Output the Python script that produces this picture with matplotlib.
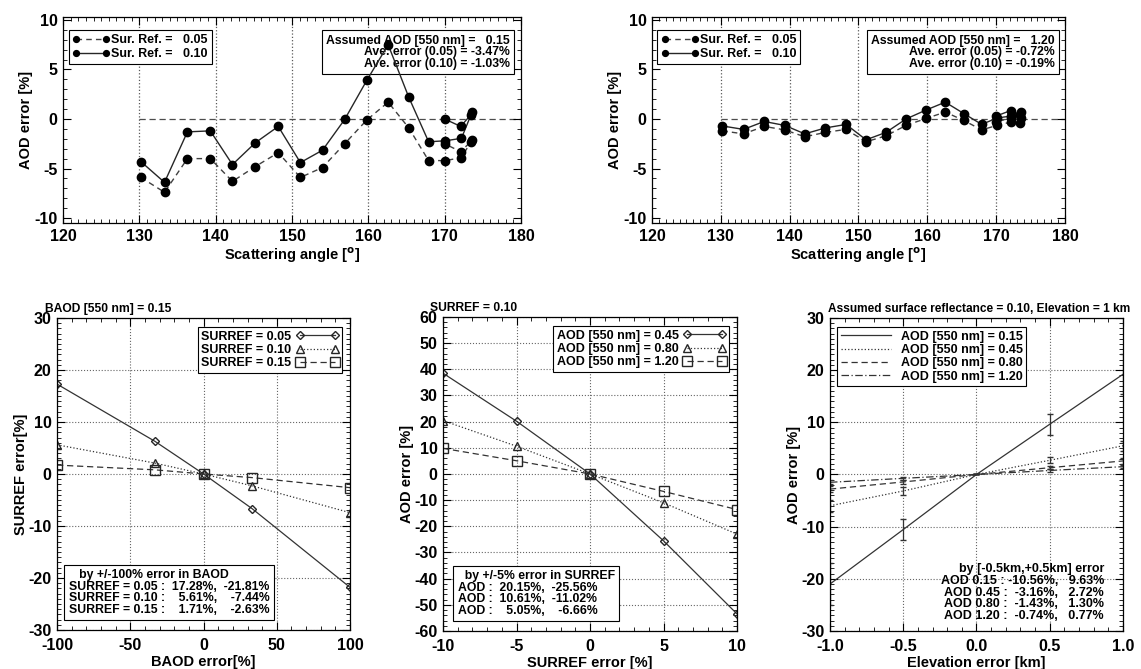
import matplotlib
matplotlib.use("Agg")
import matplotlib.pyplot as plt
from matplotlib.ticker import MultipleLocator, FormatStrFormatter

plt.rcParams['font.family'] = ['Liberation Sans', 'DejaVu Sans']
plt.rcParams['font.weight'] = 'bold'
plt.rcParams['axes.labelweight'] = 'bold'
plt.rcParams['axes.unicode_minus'] = False

# --- top: AOD error vs scattering angle ---
angle = [130.2, 133.3, 136.3, 139.3, 142.2, 145.2, 148.2, 151.1, 154.0, 156.9,
         159.8, 162.6, 165.3, 167.9, 170.1, 172.2, 173.6, 173.4, 172.1, 170.0]
err015_sr005 = [-5.9, -7.4, -4.0, -4.0, -6.3, -4.8, -3.4, -5.9, -4.9, -2.5,
                -0.1, 1.7, -0.9, -4.2, -4.2, -3.9, -2.1, -2.3, -3.3, -2.5]
err015_sr010 = [-4.3, -6.4, -1.3, -1.2, -4.6, -2.4, -0.75, -4.4, -3.15, -0.05,
                3.9, 7.5, 2.2, -2.3, -2.2, -1.95, 0.7, 0.4, -0.75, 0.0]
err120_sr005 = [-1.2, -1.5, -0.75, -1.1, -1.8, -1.35, -1.05, -2.3, -1.7, -0.65,
                0.05, 0.7, -0.15, -1.1, -0.65, -0.3, 0.15, -0.4, 0.1, -0.3]
err120_sr010 = [-0.7, -1.05, -0.25, -0.65, -1.5, -0.9, -0.55, -2.1, -1.35, 0.0,
                0.9, 1.7, 0.55, -0.55, 0.1, 0.3, 0.75, 0.45, 0.85, 0.3]
top_info = [("0.15", "-3.47%", "-1.03%"), ("1.20", "-0.72%", "-0.19%")]

# --- bottom-left: SURREF error vs BAOD error ---
baod_err = [-100, -33.3, 0, 33.3, 100]
surref_err = {
    "0.05": [17.28, 6.3, 0, -6.7, -21.81],
    "0.10": [5.61, 2.1, 0, -2.3, -7.44],
    "0.15": [1.71, 0.8, 0, -0.7, -2.63],
}
# --- bottom-middle: AOD error vs SURREF error ---
sr_err = [-10, -5, 0, 5, 10]
aod_err_sr = {
    "0.45": [38.5, 20.15, 0, -25.56, -53.5],
    "0.80": [20.4, 10.61, 0, -11.02, -23.0],
    "1.20": [9.8, 5.05, 0, -6.66, -13.6],
}
# --- bottom-right: AOD error vs elevation error ---
elev_err = [-1.0, -0.5, 0.0, 0.5, 1.0]
aod_err_el = {
    "0.15": [-21.0, -10.56, 0, 9.63, 19.2],
    "0.45": [-6.0, -3.16, 0, 2.72, 5.5],
    "0.80": [-2.8, -1.43, 0, 1.30, 2.6],
    "1.20": [-1.5, -0.74, 0, 0.77, 1.5],
}
aod_err_el_bar = {
    "0.15": [4.0, 2.0, 0, 2.0, 3.8],
    "0.45": [1.2, 0.7, 0, 0.6, 1.0],
    "0.80": [0.5, 0.3, 0, 0.3, 0.5],
    "1.20": [0.4, 0.3, 0, 0.3, 0.3],
}

fig = plt.figure(figsize=(11.41, 6.69), dpi=100)
box_kw = dict(boxstyle='square,pad=0.35', facecolor='white', edgecolor='black', linewidth=0.8)


def style_axes(ax):
    ax.tick_params(which='both', direction='in', top=True, right=True, labelsize=11.5)
    ax.tick_params(which='major', length=6, width=0.8, pad=4)
    ax.tick_params(which='minor', length=3, width=0.6)
    for s in ax.spines.values():
        s.set_linewidth(0.9)


# top panels
top_axes = [fig.add_axes([0.0552, 0.6667, 0.4014, 0.3079]),
            fig.add_axes([0.5714, 0.6667, 0.3620, 0.3079])]
top_series = [(err015_sr005, err015_sr010), (err120_sr005, err120_sr010)]
for ax, (s005, s010), info in zip(top_axes, top_series, top_info):
    for xv in [130, 140, 150, 160, 170]:
        ax.axvline(xv, color='0.35', linestyle=':', linewidth=0.9, zorder=1)
    ax.plot([130, 180], [0, 0], color='0.3', linestyle=(0, (5, 3)), linewidth=0.9, zorder=1)
    ax.plot(angle, s005, color='0.25', linestyle=(0, (4, 3)), linewidth=1.0,
            marker='o', markersize=6, markerfacecolor='black', markeredgecolor='black',
            label='Sur. Ref. =   0.05', zorder=4)
    ax.plot(angle, s010, color='0.15', linestyle='-', linewidth=1.0,
            marker='o', markersize=6, markerfacecolor='black', markeredgecolor='black',
            label='Sur. Ref. =   0.10', zorder=4)
    ax.set_xlim(120, 180)
    ax.xaxis.set_major_locator(MultipleLocator(10))
    ax.xaxis.set_minor_locator(MultipleLocator(1))
    ax.yaxis.set_major_locator(MultipleLocator(5))
    ax.yaxis.set_minor_locator(MultipleLocator(1))
    ax.set_ylim(-10.5, 10.3)
    ax.set_xlabel('Scattering angle [$\\mathbf{^o}$]', fontsize=10.5, labelpad=1)
    ax.set_ylabel('AOD error [%]', fontsize=10.5, labelpad=1)
    style_axes(ax)
    leg = ax.legend(loc='upper left', numpoints=2, fontsize=9, frameon=True,
                    fancybox=False, edgecolor='black', handlelength=3.0,
                    markerscale=0.7, borderpad=0.3, labelspacing=0.15,
                    handletextpad=0.1, borderaxespad=0,
                    bbox_to_anchor=(0.013, 0.935), framealpha=1)
    leg.get_frame().set_linewidth(0.8)
    leg.set_zorder(2)
    ax.text(0.975, 0.915,
            'Assumed AOD [550 nm] =   %s\nAve. error (0.05) = %s\nAve. error (0.10) = %s' % info,
            transform=ax.transAxes, ha='right', va='top', multialignment='right',
            fontsize=8.8, linespacing=0.95, zorder=2, bbox=box_kw)

# bottom panels
line_styles = ['-', ':', (0, (5, 3))]
markers = ['D', '^', 's']
mk_sizes = [4, 6, 6.5]

ax1 = fig.add_axes([0.0500, 0.0583, 0.2568, 0.4664])
for (k, v), ls, mk, ms in zip(surref_err.items(), line_styles, markers, mk_sizes):
    ax1.plot(baod_err, v, color='0.2', linestyle=ls, linewidth=0.9, marker=mk,
             markersize=ms, markerfacecolor='none', markeredgecolor='0.15',
             label='SURREF = %s' % k)
ax1.set_xlim(-100, 100)
ax1.set_ylim(-30, 30)
ax1.xaxis.set_major_locator(MultipleLocator(50))
ax1.xaxis.set_minor_locator(MultipleLocator(10))
ax1.yaxis.set_major_locator(MultipleLocator(10))
ax1.yaxis.set_minor_locator(MultipleLocator(1))
ax1.set_xlabel('BAOD error[%]', fontsize=10.5, labelpad=1)
ax1.set_ylabel('SURREF error[%]', fontsize=10.5, labelpad=0)
ax1.text(-0.041, 1.008, 'BAOD [550 nm] = 0.15', transform=ax1.transAxes,
         ha='left', va='bottom', fontsize=8.7)
ax1.text(0.04, 0.045,
         '   by +/-100% error in BAOD\nSURREF = 0.05 :  17.28%,  -21.81%\n'
         'SURREF = 0.10 :    5.61%,    -7.44%\nSURREF = 0.15 :    1.71%,    -2.63%',
         transform=ax1.transAxes, ha='left', va='bottom', fontsize=8.8,
         linespacing=0.95, bbox=box_kw)

ax2 = fig.add_axes([0.3883, 0.0568, 0.2577, 0.4694])
for (k, v), ls, mk, ms in zip(aod_err_sr.items(), line_styles, markers, mk_sizes):
    ax2.plot(sr_err, v, color='0.2', linestyle=ls, linewidth=0.9, marker=mk,
             markersize=ms, markerfacecolor='none', markeredgecolor='0.15',
             label='AOD [550 nm] = %s' % k)
ax2.set_xlim(-10, 10)
ax2.set_ylim(-60, 60)
ax2.xaxis.set_major_locator(MultipleLocator(5))
ax2.xaxis.set_minor_locator(MultipleLocator(1))
ax2.yaxis.set_major_locator(MultipleLocator(10))
ax2.yaxis.set_minor_locator(MultipleLocator(2))
ax2.set_xlabel('SURREF error [%]', fontsize=10.5, labelpad=1)
ax2.set_ylabel('AOD error [%]', fontsize=10.5, labelpad=0)
ax2.text(-0.044, 1.008, 'SURREF = 0.10', transform=ax2.transAxes,
         ha='left', va='bottom', fontsize=8.7)
ax2.text(0.05, 0.045,
         '  by +/-5% error in SURREF\nAOD :  20.15%,  -25.56%\n'
         'AOD :  10.61%,  -11.02%\nAOD :    5.05%,    -6.66%',
         transform=ax2.transAxes, ha='left', va='bottom', fontsize=8.8,
         linespacing=0.95, bbox=box_kw)

ax3 = fig.add_axes([0.7274, 0.0568, 0.2568, 0.4679])
el_styles = ['-', ':', (0, (5, 3)), (0, (6, 2, 1, 2))]
for (k, v), ls in zip(aod_err_el.items(), el_styles):
    ax3.plot(elev_err, v, color='0.2', linestyle=ls, linewidth=0.9,
             label='AOD [550 nm] = %s' % k)
    ax3.errorbar(elev_err, v, yerr=aod_err_el_bar[k], fmt='none',
                 elinewidth=0.9, capsize=2, ecolor='0.2')
ax3.set_xlim(-1.0, 1.0)
ax3.set_ylim(-30, 30)
ax3.xaxis.set_major_locator(MultipleLocator(0.5))
ax3.xaxis.set_minor_locator(MultipleLocator(0.1))
ax3.xaxis.set_major_formatter(FormatStrFormatter('%.1f'))
ax3.yaxis.set_major_locator(MultipleLocator(10))
ax3.yaxis.set_minor_locator(MultipleLocator(1))
ax3.set_xlabel('Elevation error [km]', fontsize=10.5, labelpad=1)
ax3.set_ylabel('AOD error [%]', fontsize=10.5, labelpad=0)
ax3.text(-0.007, 1.008, 'Assumed surface reflectance = 0.10, Elevation = 1 km',
         transform=ax3.transAxes, ha='left', va='bottom', fontsize=8.6)
ax3.text(0.935, 0.03,
         'by [-0.5km,+0.5km] error\nAOD 0.15 : -10.56%,   9.63%\n'
         'AOD 0.45 :  -3.16%,   2.72%\nAOD 0.80 :  -1.43%,   1.30%\nAOD 1.20 :  -0.74%,   0.77%',
         transform=ax3.transAxes, ha='right', va='bottom', multialignment='right',
         fontsize=9, linespacing=0.95)

for ax in [ax1, ax2, ax3]:
    ax.grid(True, which='major', color='0.4', linestyle=':', linewidth=0.8)
    style_axes(ax)
    ax.tick_params(axis='x', pad=6)

for ax in [ax1, ax2]:
    leg = ax.legend(loc='upper right', numpoints=2, fontsize=9, frameon=True,
                    fancybox=False, edgecolor='black', markerfirst=False,
                    handlelength=3.4, borderpad=0.3, labelspacing=0.1,
                    handletextpad=0.35, borderaxespad=0,
                    bbox_to_anchor=(0.973, 0.971), framealpha=1)
    leg.get_frame().set_linewidth(0.8)

leg = ax3.legend(loc='upper left', fontsize=9, frameon=True,
                 fancybox=False, edgecolor='black', handlelength=4,
                 borderpad=0.3, labelspacing=0.1, handletextpad=0.8,
                 borderaxespad=0, bbox_to_anchor=(0.024, 0.971), framealpha=1)
leg.get_frame().set_linewidth(0.8)

fig.savefig('out.png', dpi=100)
